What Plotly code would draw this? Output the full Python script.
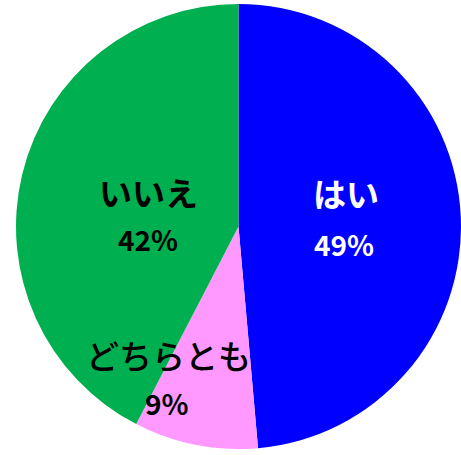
import plotly.graph_objects as go

labels = ["はい", "どちらとも", "いいえ"]
values = [48.6, 9.0, 42.4]
colors = ["#0000FF", "#FF99FF", "#00B050"]
text_colors = ["white", "black", "black"]

W, H = 461, 455
cx, cy, R = 238.5, 226.5, 222.5

fig = go.Figure(go.Pie(
    labels=labels, values=values, sort=False, direction="clockwise", rotation=0,
    marker=dict(colors=colors, line=dict(width=0)),
    textinfo="none", hoverinfo="label+percent", showlegend=False,
    domain=dict(x=[(cx - R) / W, min(1, (cx + R) / W)],
                y=[1 - (cy + R) / H, 1 - (cy - R) / H]),
))

# label positions in pixels (name line, percent line)
pos = {
    "はい": ((346, 193), (344, 244)),
    "どちらとも": ((168, 355), (167, 403)),
    "いいえ": ((148, 192), (148, 239)),
}
name_weight = {"はい": 700, "どちらとも": 500, "いいえ": 700}
font_family = "Noto Sans CJK JP, Noto Sans, sans-serif"
total = sum(values)
for lab, v, tc in zip(labels, values, text_colors):
    (nx, ny), (px, py) = pos[lab]
    fig.add_annotation(x=nx / W, y=1 - ny / H, xref="paper", yref="paper", text=lab,
                       xanchor="center", yanchor="middle", showarrow=False,
                       font=dict(size=33, color=tc, family=font_family, weight=name_weight[lab]))
    fig.add_annotation(x=px / W, y=1 - py / H, xref="paper", yref="paper",
                       text=f"<b>{round(v / total * 100)}%</b>",
                       xanchor="center", yanchor="middle",
                       showarrow=False, font=dict(size=28, color=tc, family=font_family))

fig.update_layout(width=W, height=H, margin=dict(l=0, r=0, t=0, b=0),
                  paper_bgcolor="white", plot_bgcolor="white")
fig.write_html("out.html", config={"displayModeBar": False},
               post_script="document.body.style.margin='0';")
